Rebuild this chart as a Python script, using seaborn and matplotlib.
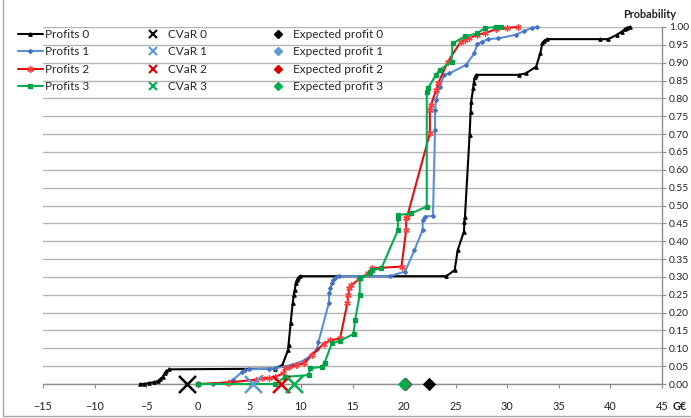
import matplotlib
matplotlib.use("Agg")
import matplotlib.pyplot as plt
from matplotlib.lines import Line2D
from matplotlib.patches import Rectangle
from matplotlib.ticker import FormatStrFormatter
import seaborn as sns

sns.set_theme(style="white")
plt.rcParams["font.family"] = ["Lato", "DejaVu Sans"]

# Cumulative profit distributions (profit in G€, cumulative probability)
profits0_x = [-5.6, -5.2, -4.7, -4.2, -3.9, -3.65, -3.4, -3.2, -3.05, -2.75,
              7.5, 8.2, 8.75, 8.8, 9.0, 9.2, 9.3, 9.4, 9.5, 9.6,
              9.75, 9.9, 24.1, 24.9, 25.2, 25.8, 25.85, 25.9, 26.35, 26.45,
              26.5, 26.7, 26.75, 26.85, 27.0, 31.1, 31.8, 32.8, 33.2, 33.4,
              33.6, 33.9, 39.0, 39.8, 40.6, 41.1, 41.4, 41.6, 41.9]
profits0_p = [0.0, 0.0, 0.003, 0.005, 0.008, 0.013, 0.02, 0.03, 0.036, 0.041,
              0.043, 0.053, 0.095, 0.11, 0.17, 0.226, 0.249, 0.263, 0.282, 0.291,
              0.298, 0.302, 0.302, 0.319, 0.375, 0.427, 0.455, 0.469, 0.697, 0.763,
              0.791, 0.828, 0.842, 0.859, 0.866, 0.866, 0.870, 0.889, 0.926, 0.954,
              0.962, 0.966, 0.966, 0.966, 0.978, 0.987, 0.994, 0.998, 1.0]

profits1_x = [1.5, 3.0, 3.4, 4.3, 4.6, 5.0, 6.9, 7.5, 9.1, 10.4,
              11.55, 11.7, 12.7, 12.75, 12.85, 13.0, 13.15, 13.3, 13.65, 18.6,
              20.1, 21.0, 21.8, 21.8, 22.0, 22.8, 23.0, 23.0, 23.1, 23.45,
              23.9, 24.4, 26.0, 26.8, 27.1, 27.6, 28.1, 29.1, 30.8, 31.6,
              32.4, 32.9]
profits1_p = [0.0, 0.006, 0.011, 0.034, 0.039, 0.041, 0.043, 0.044, 0.053, 0.067,
              0.097, 0.118, 0.226, 0.254, 0.268, 0.282, 0.291, 0.298, 0.302, 0.302,
              0.315, 0.375, 0.431, 0.459, 0.469, 0.471, 0.711, 0.767, 0.795, 0.833,
              0.866, 0.870, 0.894, 0.926, 0.952, 0.959, 0.966, 0.968, 0.978, 0.988,
              0.998, 1.0]

profits2_x = [0.0, 2.9, 5.6, 6.25, 6.9, 7.5, 8.3, 8.5, 8.8, 9.5,
              10.3, 11.1, 12.2, 12.85, 13.8, 14.5, 14.6, 14.7, 14.9, 15.6,
              16.5, 16.9, 19.75, 20.2, 20.2, 20.3, 22.5, 22.5, 22.6, 23.1,
              23.3, 24.25, 25.5, 25.9, 26.3, 27.1, 27.8, 28.9, 30.0, 31.0]
profits2_p = [0.0, 0.004, 0.012, 0.016, 0.017, 0.02, 0.03, 0.044, 0.047, 0.052,
              0.058, 0.081, 0.113, 0.122, 0.128, 0.226, 0.249, 0.268, 0.277, 0.293,
              0.31, 0.324, 0.329, 0.431, 0.464, 0.469, 0.702, 0.767, 0.781, 0.823,
              0.842, 0.903, 0.959, 0.964, 0.968, 0.978, 0.982, 0.994, 0.998, 1.0]

profits3_x = [0.0, 7.5, 8.5, 10.75, 10.9, 12.0, 12.3, 13.0, 13.8, 15.1,
              15.25, 15.7, 15.7, 16.7, 16.9, 17.8, 19.4, 19.4, 19.4, 20.7,
              22.2, 22.2, 22.3, 23.1, 23.45, 24.6, 24.7, 25.9, 27.1, 27.8,
              28.9, 29.4]
profits3_p = [0.0, 0.0, 0.02, 0.025, 0.044, 0.048, 0.06, 0.114, 0.121, 0.14,
              0.179, 0.25, 0.296, 0.31, 0.319, 0.324, 0.431, 0.464, 0.473, 0.478,
              0.497, 0.819, 0.828, 0.866, 0.88, 0.903, 0.954, 0.974, 0.982, 0.997,
              1.0, 1.0]

cvar_values = [-1.0, 5.4, 8.1, 9.3]
expected_values = [22.4, 20.2, 20.1, 20.0]

profit_labels = ["Profits 0", "Profits 1", "Profits 2", "Profits 3"]
cvar_labels = ["CVaR 0", "CVaR 1", "CVaR 2", "CVaR 3"]
expected_labels = ["Expected profit 0", "Expected profit 1",
                   "Expected profit 2", "Expected profit 3"]
x_ticks = list(range(-15, 50, 5))
y_ticks = [round(0.05 * i, 2) for i in range(21)]

# Styles per portfolio
line_colors = ["#000000", "#5B8FD6", "#E01010", "#00B050"]
marker_colors = ["#000000", "#4472C4", "#FF3B3B", "#00A048"]
line_markers = ["^", "D", (6, 2, 0), "s"]
line_msizes = [2.4, 2.0, 4.6, 2.2]
point_colors = ["#000000", "#5B9BD5", "#E00000", "#00B050"]

W, H = 691, 418
fig = plt.figure(figsize=(W / 100, H / 100), dpi=100)
ax = fig.add_axes([43 / W, 34 / H, 619 / W, 357 / H])

series = [(profits0_x, profits0_p), (profits1_x, profits1_p),
          (profits2_x, profits2_p), (profits3_x, profits3_p)]

for i, (xs, ps) in enumerate(series):
    sns.lineplot(x=xs, y=ps, sort=False, estimator=None, ax=ax,
                 color=line_colors[i], lw=1.5, marker=line_markers[i],
                 markersize=line_msizes[i], markerfacecolor=marker_colors[i],
                 markeredgecolor=marker_colors[i], markeredgewidth=0.9,
                 clip_on=False, zorder=3 + i, legend=False)

for i in range(4):
    sns.scatterplot(x=[cvar_values[i]], y=[0.0], ax=ax, marker="x", s=150,
                    color=point_colors[i], linewidth=1.8, clip_on=False,
                    zorder=8 + i, legend=False)

for i in range(4):
    sns.scatterplot(x=[expected_values[i]], y=[0.0], ax=ax, marker="D", s=40,
                    color=point_colors[i], edgecolor=point_colors[i],
                    clip_on=False, zorder=12 + i, legend=False)

ax.set_xlim(-15, 45)
ax.set_ylim(0, 1)
ax.set_xticks(x_ticks)
ax.set_yticks(y_ticks)
ax.yaxis.set_major_formatter(FormatStrFormatter("%.2f"))
ax.yaxis.tick_right()
ax.set_xlabel("")
ax.set_ylabel("")

ax.yaxis.grid(True, color="#b4b4b4", lw=1.0)
ax.xaxis.grid(False)
ax.set_axisbelow(True)
for side in ["left", "top"]:
    ax.spines[side].set_visible(False)
for side in ["right", "bottom"]:
    ax.spines[side].set_color("#8c8c8c")
    ax.spines[side].set_linewidth(1.0)

ax.tick_params(axis="x", bottom=True, length=3, width=0.8, color="#8c8c8c",
               pad=9, labelsize=7.8, labelcolor="#222222")
ax.tick_params(axis="y", right=True, left=False, length=3, width=0.8,
               color="#8c8c8c", pad=2, labelsize=7.4, labelcolor="#222222")

fig.text(650 / W, 1 - 15 / H, "Probability", ha="center", va="center",
         fontsize=7.8, fontweight="bold", color="#222222")
fig.text(680 / W, 1 - 407 / H, "G€", ha="center", va="center",
         fontsize=7.8, fontweight="bold", color="#222222")

# Legend in three columns
fs = 8.5
profit_handles = [Line2D([], [], color=line_colors[i], lw=1.5,
                         marker=line_markers[i], markersize=line_msizes[i],
                         markerfacecolor=marker_colors[i],
                         markeredgecolor=marker_colors[i])
                  for i in range(4)]
cvar_handles = [Line2D([], [], ls="none", marker="x", markersize=6,
                       markeredgewidth=1.5, color=point_colors[i])
                for i in range(4)]
exp_handles = [Line2D([], [], ls="none", marker="D", markersize=4.5,
                      color=point_colors[i]) for i in range(4)]

common = dict(frameon=False, fontsize=fs, borderpad=0, borderaxespad=0,
              labelspacing=0.55, loc="upper left")
leg1 = fig.legend(profit_handles, profit_labels, handlelength=2.1,
                  handletextpad=0.15,
                  bbox_to_anchor=(18 / W, 1 - 29 / H), **common)
leg2 = fig.legend(cvar_handles, cvar_labels, handlelength=1.35,
                  handletextpad=0.6,
                  bbox_to_anchor=(145 / W, 1 - 29 / H), **common)
leg3 = fig.legend(exp_handles, expected_labels, handlelength=1.35,
                  handletextpad=0.6,
                  bbox_to_anchor=(270 / W, 1 - 29 / H), **common)

# Chart border
fig.add_artist(Rectangle((3 / W, 2 / H), 1.2, 1.2, transform=fig.transFigure,
                         fill=False, ec="#a6a6a6", lw=1.0))

fig.savefig("out.png", dpi=100)
